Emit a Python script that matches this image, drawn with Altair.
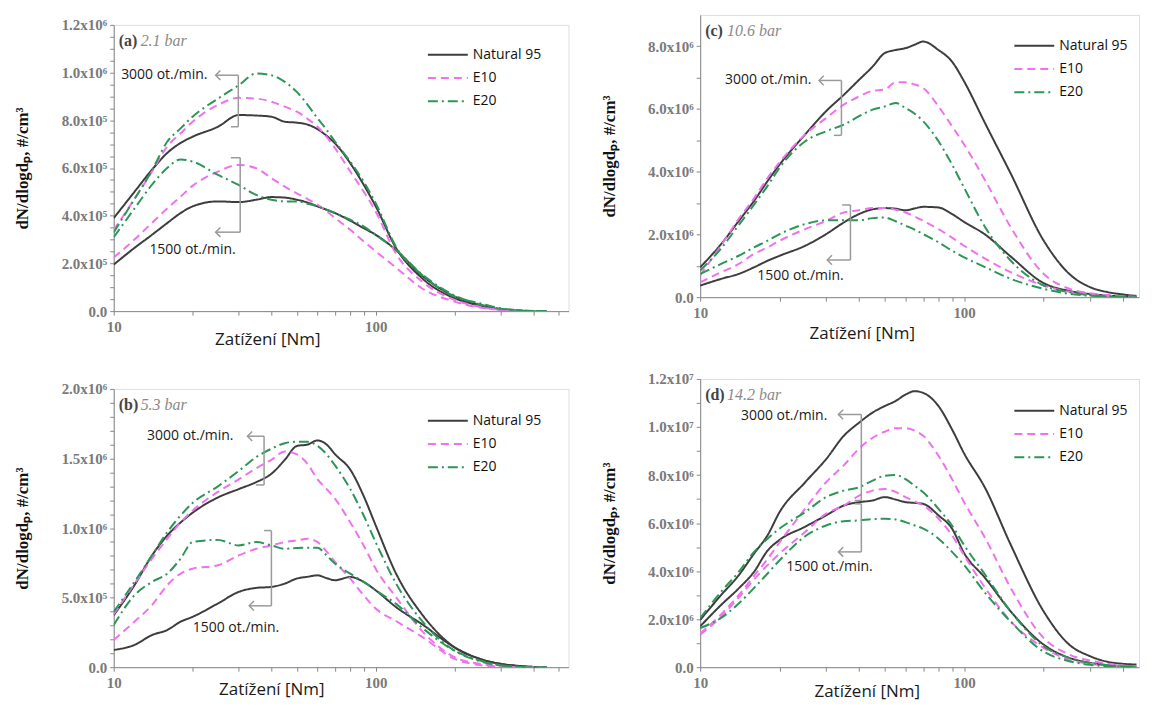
import altair as alt
import pandas as pd

# ---------------- data ----------------
LOADS = [10, 12, 14, 16, 18, 20, 25, 30, 35, 40, 45, 50, 55, 60, 65, 70, 80, 90, 100,
         120, 150, 200, 250, 300, 350, 400, 450]
FUELS = ["Natural 95", "E10", "E20"]
SPEEDS = ["3000", "1500"]
COLORS = ["#3d3d3d", "#ee72ee", "#2e9558"]
DASHES = [[1, 0], [8, 5], [10, 4, 2, 4]]

# values in thousands of #/cm3
A_N95_3000 = [390, 500, 593, 663, 705, 731, 773, 822, 820, 815, 794, 790, 782, 763, 735, 703, 620, 530, 440, 262, 139, 54, 23, 6, 2, 0, 0]
A_N95_1500 = [195, 265, 320, 369, 411, 439, 460, 457, 467, 478, 476, 467, 455, 439, 425, 411, 379, 348, 320, 255, 150, 62, 26, 8, 2, 0, 0]
A_E10_3000 = [340, 470, 585, 690, 745, 794, 864, 894, 891, 878, 857, 836, 806, 773, 730, 683, 585, 501, 418, 238, 125, 47, 18, 5, 2, 0, 0]
A_E10_1500 = [225, 300, 370, 430, 480, 525, 585, 613, 599, 557, 522, 494, 470, 446, 418, 390, 341, 292, 251, 181, 96, 40, 15, 5, 1, 0, 0]
A_E20_3000 = [330, 470, 590, 710, 766, 815, 891, 947, 996, 989, 961, 919, 865, 808, 760, 710, 627, 543, 453, 267, 153, 61, 33, 12, 4, 1, 0]
A_E20_1500 = [310, 430, 530, 600, 636, 627, 571, 529, 487, 467, 460, 460, 450, 439, 425, 411, 383, 355, 320, 255, 155, 66, 28, 10, 3, 0, 0]

B_N95_3000 = [374, 589, 803, 946, 1040, 1110, 1220, 1280, 1330, 1390, 1490, 1590, 1600, 1630, 1600, 1530, 1420, 1230, 1020, 668, 382, 143, 60, 24, 10, 2, 0]
B_N95_1500 = [124, 160, 231, 267, 327, 362, 458, 541, 570, 577, 601, 637, 650, 660, 640, 625, 648, 613, 553, 430, 310, 143, 60, 24, 8, 2, 0]
B_E10_3000 = [380, 600, 780, 923, 1040, 1125, 1260, 1350, 1430, 1490, 1550, 1530, 1460, 1350, 1280, 1210, 1040, 875, 708, 500, 263, 72, 24, 5, 0, 0, 0]
B_E10_1500 = [195, 327, 446, 589, 672, 708, 732, 803, 851, 875, 899, 911, 923, 899, 830, 756, 637, 517, 422, 330, 220, 60, 15, 3, 0, 0, 0]
B_E20_3000 = [398, 613, 803, 970, 1090, 1180, 1300, 1410, 1510, 1570, 1610, 1620, 1620, 1590, 1530, 1450, 1280, 1090, 899, 597, 334, 119, 43, 12, 3, 0, 0]
B_E20_1500 = [303, 517, 613, 672, 780, 899, 915, 875, 899, 875, 851, 856, 858, 858, 803, 744, 672, 613, 553, 453, 286, 119, 48, 14, 3, 0, 0]

C_N95_3000 = [952, 1690, 2430, 3070, 3700, 4230, 5190, 5930, 6450, 6930, 7350, 7780, 7880, 7940, 8050, 8150, 7880, 7510, 6880, 5550, 3950, 1810, 747, 320, 160, 85, 40]
C_N95_1500 = [370, 582, 741, 952, 1160, 1320, 1640, 2010, 2380, 2650, 2800, 2840, 2820, 2770, 2830, 2880, 2860, 2650, 2400, 2000, 1300, 450, 200, 100, 50, 20, 5]
C_E10_3000 = [700, 1650, 2500, 3150, 3800, 4300, 5190, 5710, 6140, 6400, 6580, 6620, 6850, 6850, 6780, 6670, 6080, 5450, 4870, 3730, 2240, 747, 267, 128, 64, 32, 10]
C_E10_1500 = [476, 794, 1060, 1380, 1590, 1800, 2170, 2430, 2700, 2770, 2840, 2840, 2790, 2700, 2570, 2430, 2170, 1900, 1640, 1230, 800, 373, 170, 85, 43, 20, 0]
C_E20_3000 = [850, 1550, 2300, 2950, 3550, 4130, 4970, 5290, 5500, 5770, 5980, 6080, 6190, 6030, 5850, 5610, 4970, 4230, 3490, 2240, 1170, 373, 160, 64, 32, 10, 0]
C_E20_1500 = [741, 1060, 1320, 1590, 1800, 2010, 2330, 2450, 2450, 2450, 2520, 2540, 2420, 2280, 2150, 2010, 1750, 1480, 1270, 960, 587, 267, 107, 43, 10, 0, 0]

D_N95_3000 = [1970, 3000, 3830, 4730, 5490, 6460, 7700, 8660, 9630, 10180, 10600, 10870, 11080, 11350, 11490, 11420, 10870, 9900, 8900, 7470, 5110, 2330, 944, 458, 222, 139, 111]
D_N95_1500 = [1700, 2590, 3280, 3970, 4850, 5300, 5850, 6320, 6730, 6870, 6940, 7080, 6980, 6870, 6840, 6800, 6320, 5770, 4750, 3720, 2330, 944, 389, 180, 83, 42, 20]
D_E10_3000 = [1400, 2200, 3000, 3800, 4500, 5200, 6600, 7700, 8400, 9100, 9550, 9800, 9950, 9950, 9850, 9630, 8800, 7830, 6870, 5390, 3310, 1220, 528, 278, 139, 70, 28]
D_E10_1500 = [1350, 2100, 2900, 3650, 4250, 4730, 5630, 6390, 6730, 7140, 7350, 7420, 7300, 7080, 6900, 6730, 6180, 5490, 4660, 3310, 1920, 806, 319, 139, 70, 30, 0]
D_E20_3000 = [2040, 3140, 3970, 4800, 5350, 5770, 6460, 7080, 7350, 7490, 7770, 7970, 8000, 7830, 7550, 7280, 6590, 5900, 5080, 3860, 2330, 875, 389, 180, 83, 30, 0]
D_E20_1500 = [1630, 2050, 2650, 3300, 3900, 4450, 5450, 5900, 6080, 6110, 6160, 6180, 6150, 6040, 5900, 5770, 5350, 4800, 4250, 3100, 1900, 650, 250, 100, 40, 15, 0]

SERIES = {
    "a": {("Natural 95", "3000"): A_N95_3000, ("Natural 95", "1500"): A_N95_1500,
          ("E10", "3000"): A_E10_3000, ("E10", "1500"): A_E10_1500,
          ("E20", "3000"): A_E20_3000, ("E20", "1500"): A_E20_1500},
    "b": {("Natural 95", "3000"): B_N95_3000, ("Natural 95", "1500"): B_N95_1500,
          ("E10", "3000"): B_E10_3000, ("E10", "1500"): B_E10_1500,
          ("E20", "3000"): B_E20_3000, ("E20", "1500"): B_E20_1500},
    "c": {("Natural 95", "3000"): C_N95_3000, ("Natural 95", "1500"): C_N95_1500,
          ("E10", "3000"): C_E10_3000, ("E10", "1500"): C_E10_1500,
          ("E20", "3000"): C_E20_3000, ("E20", "1500"): C_E20_1500},
    "d": {("Natural 95", "3000"): D_N95_3000, ("Natural 95", "1500"): D_N95_1500,
          ("E10", "3000"): D_E10_3000, ("E10", "1500"): D_E10_1500,
          ("E20", "3000"): D_E20_3000, ("E20", "1500"): D_E20_1500},
}

TAGS = {"a": "(a)", "b": "(b)", "c": "(c)", "d": "(d)"}
PRESSURES = {"a": "2.1 bar", "b": "5.3 bar", "c": "10.6 bar", "d": "14.2 bar"}

# brackets: (x of vertical line, y at arrow end, y at plain end, x of arrow tip, x of plain tick end) - thousands
BRACKETS = {
    "a": [(29.9, 989, 773, 24.5, 28.0), (30.4, 331, 643, 24.5, 28.0)],
    "b": [(37.5, 1660, 1310, 32.4, 34.9), (40.0, 441, 982, 32.9, 37.5)],
    "c": [(34.3, 6910, 5160, 28.2, 32.1), (37.1, 1185, 2940, 30.3, 34.5)],
    "d": [(40.8, 10520, 6940, 33.4, 38.5), (40.8, 4800, 6800, 33.4, 38.5)],
}
SPEED_LABELS = ["3000 ot./min.", "1500 ot./min."]
LABEL_POS = {
    "a": [(15.6, 989), (20.0, 258)],
    "b": [(19.6, 1660), (29.3, 279)],
    "c": [(18.1, 6910), (24.0, 688)],
    "d": [(20.8, 10450), (30.9, 4180)],
}

X_TICKS_LONG = [10, 20, 30, 40, 50, 60, 70, 80, 90, 100, 200, 300, 400, 500]
X_TICKS_SHORT = [10, 20, 30, 40, 50, 60, 70, 80, 90, 100, 200, 300, 400]

META = {
    "a": dict(w=456, h=287, xmax=545, ymax=1.2e6, major=200000, minor=50000, ytop=1200000,
              xticks=X_TICKS_LONG, tx=154, ty=20, lx=314, ly=22),
    "b": dict(w=456, h=279, xmax=545, ymax=2.0e6, major=500000, minor=100000, ytop=2000000,
              xticks=X_TICKS_LONG, tx=158, ty=14, lx=314, ly=24),
    "c": dict(w=440, h=283, xmax=460, ymax=9.0e6, major=2000000, minor=1000000, ytop=8000000,
              xticks=X_TICKS_SHORT, tx=162, ty=28, lx=314, ly=23),
    "d": dict(w=440, h=289, xmax=460, ymax=1.2e7, major=2000000, minor=1000000, ytop=12000000,
              xticks=X_TICKS_SHORT, tx=167, ty=16, lx=314, ly=24),
}

SUP = "\u2070\u00b9\u00b2\u00b3\u2074\u2075\u2076\u2077\u2078\u2079"


def y_label_expr(major):
    e = "floor(log(datum.value) / LN10 + 1e-9)"
    return (
        f"datum.value % {major} != 0 ? '' : (datum.value == 0 ? '0.0' : "
        f"format(datum.value / pow(10, {e}), '.1f') + 'x10' + substring('{SUP}', {e}, {e} + 1))"
    )


def make_panel(p):
    m = META[p]
    rows = []
    for fuel in FUELS:
        for speed in SPEEDS:
            for x, v in zip(LOADS, SERIES[p][(fuel, speed)]):
                rows.append({"load": x, "value": v * 1000, "fuel": fuel, "speed": speed})
    df = pd.DataFrame(rows)

    xscale = alt.Scale(type="log", domain=[10, m["xmax"]], nice=False)
    yscale = alt.Scale(domain=[0, m["ymax"]], nice=False, zero=True)
    yvals = [i * m["minor"] for i in range(int(m["ytop"] // m["minor"]) + 1)]

    xaxis = alt.Axis(
        values=m["xticks"],
        labelExpr="datum.value == 10 ? '10' : (datum.value == 100 ? '100' : '')",
        title="Zatížení [Nm]", titleX=m["tx"], titleY=m["ty"], titleAlign="center",
        titleBaseline="top", titleFont="Open Sans", titleFontSize=17,
        titleFontWeight="normal", titleColor="#1a1a1a",
        labelFont="Liberation Serif", labelFontSize=15, labelFontWeight="bold",
        labelColor="#7a7a7a", labelFlush=False, labelPadding=4, labelOverlap=False,
        tickSize=4, tickColor="#888888", domainColor="#888888", grid=False,
    )
    yaxis = alt.Axis(
        values=yvals, labelExpr=y_label_expr(m["major"]),
        title="dN/dlogd\u209a, #/cm\u00b3", titleX=-82, titleFont="Liberation Serif",
        titleFontSize=17, titleFontWeight="bold", titleColor="#111111",
        labelFont="Liberation Serif", labelFontSize=15, labelFontWeight="bold",
        labelColor="#7a7a7a", labelPadding=3, labelOverlap=False, labelFlush=False,
        tickSize=4, tickColor="#888888", domainColor="#888888", grid=False,
    )
    leg = alt.Legend(
        title=None, orient="none", legendX=m["lx"], legendY=m["ly"], direction="vertical",
        symbolType="stroke", symbolSize=1600, symbolStrokeWidth=2,
        labelFont="Open Sans", labelFontSize=14, labelColor="#111111",
        clipHeight=16, rowPadding=7.3, padding=0, labelOffset=4,
    )

    def xenc(field):
        return alt.X(field, scale=xscale, axis=xaxis)

    def yenc(field):
        return alt.Y(field, scale=yscale, axis=yaxis)

    lines = alt.Chart(df).mark_line(strokeWidth=2, interpolate="monotone", clip=True).encode(
        x=xenc("load:Q"),
        y=yenc("value:Q"),
        color=alt.Color("fuel:N", scale=alt.Scale(domain=FUELS, range=COLORS), legend=leg),
        strokeDash=alt.StrokeDash("fuel:N", scale=alt.Scale(domain=FUELS, range=DASHES), legend=leg),
        detail="speed:N",
    )

    seg_rows, head_rows = [], []
    for (xv, ya, yo, xtip, xtick) in BRACKETS[p]:
        seg_rows.append({"load": xv, "x2": xv, "value": ya * 1000, "y2": yo * 1000})
        seg_rows.append({"load": xtip, "x2": xv, "value": ya * 1000, "y2": ya * 1000})
        seg_rows.append({"load": xtick, "x2": xv, "value": yo * 1000, "y2": yo * 1000})
        head_rows.append({"load": xtip, "value": ya * 1000})
    seg_df = pd.DataFrame(seg_rows)
    head_df = pd.DataFrame(head_rows)

    rules = alt.Chart(seg_df).mark_rule(color="#9a9a9a", strokeWidth=1.5).encode(
        x=xenc("load:Q"), x2="x2:Q", y=yenc("value:Q"), y2="y2:Q",
    )
    heads = alt.Chart(head_df).mark_point(
        shape="M1,-1L0,0L1,1", filled=False, size=90, strokeWidth=1.5,
        color="#9a9a9a", opacity=1,
    ).encode(x=xenc("load:Q"), y=yenc("value:Q"))

    ann_df = pd.DataFrame({
        "text": SPEED_LABELS,
        "load": [pos[0] for pos in LABEL_POS[p]],
        "value": [pos[1] * 1000 for pos in LABEL_POS[p]],
    })
    ann = alt.Chart(ann_df).mark_text(
        font="Open Sans", fontSize=14, color="#1a1a1a", align="center", baseline="middle"
    ).encode(x=xenc("load:Q"), y=yenc("value:Q"), text="text:N")

    tag = alt.Chart(pd.DataFrame({"t": [TAGS[p]]})).mark_text(
        align="left", baseline="middle", font="Liberation Serif", fontSize=16,
        fontWeight="bold", color="#444444",
    ).encode(x=alt.value(5), y=alt.value(16), text="t:N")
    pres = alt.Chart(pd.DataFrame({"t": [PRESSURES[p]]})).mark_text(
        align="left", baseline="middle", font="Liberation Serif", fontSize=16,
        fontStyle="italic", color="#8a8a8a",
    ).encode(x=alt.value(27), y=alt.value(16), text="t:N")

    return alt.layer(lines, rules, heads, ann, tag, pres).properties(width=m["w"], height=m["h"])


pa, pb, pc, pd_ = (make_panel(k) for k in ["a", "b", "c", "d"])

# invisible spacer that lowers the left column a few pixels relative to the right one
spacer = alt.Chart(pd.DataFrame({"t": [0]})).mark_point(opacity=0, size=0, strokeWidth=0).encode(
    x=alt.value(0), y=alt.value(0)
).properties(width=1, height=1, view=alt.ViewBackground(stroke="transparent"))

left_inner = alt.vconcat(pa, pb, spacing=33).resolve_scale(color="independent", strokeDash="independent")
left = alt.vconcat(spacer, left_inner, spacing=0).resolve_scale(color="independent", strokeDash="independent")
right = alt.vconcat(pc, pd_, spacing=29).resolve_scale(color="independent", strokeDash="independent")

chart = (
    alt.hconcat(left, right, spacing=30)
    .resolve_scale(color="independent", strokeDash="independent")
    .configure_view(stroke="#8a8a8a", strokeWidth=1.5)
    .configure(background="white")
)

chart.save("out.html", embed_options={"renderer": "svg", "actions": False})
